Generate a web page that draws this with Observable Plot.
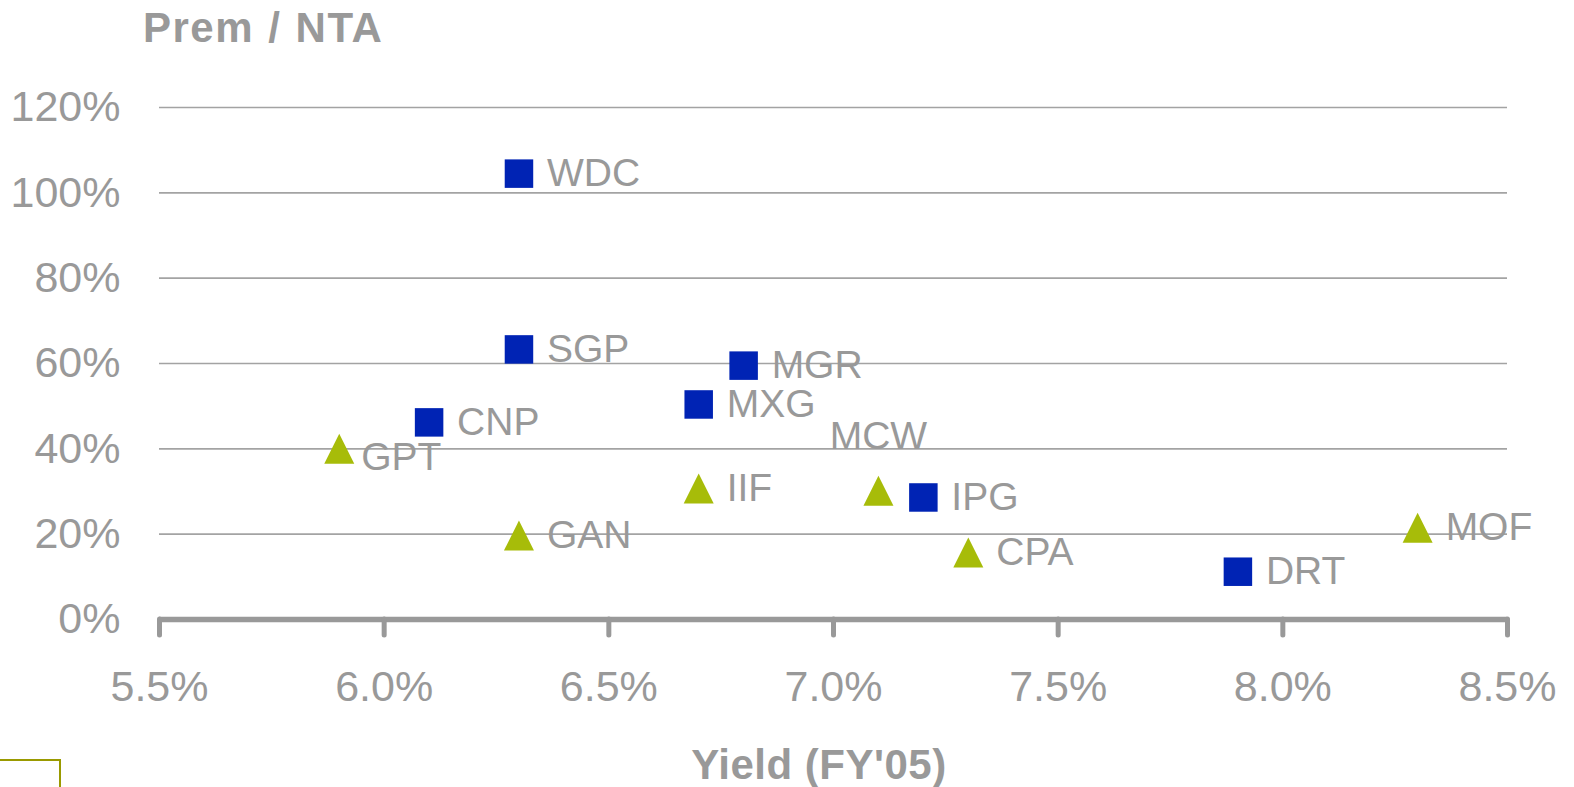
<!DOCTYPE html>
<html>
<head>
<meta charset="utf-8">
<script src="https://cdn.jsdelivr.net/npm/d3@7"></script>
<script src="https://cdn.jsdelivr.net/npm/@observablehq/plot@0.6"></script>
<style>
  body { margin: 0; background: #fff; font-family: Arial, "Liberation Sans", sans-serif; }
  #wrap { position: relative; width: 1574px; height: 787px; overflow: hidden; }
  #title { height: 60px; box-sizing: border-box; padding-left: 143px; padding-top: 7px;
           font-size: 42px; line-height: 42px; font-weight: bold; color: #999; letter-spacing: 1.5px; word-spacing: 1px; }
  #xlabel { box-sizing: border-box; padding-left: 64px; padding-top: 24px; text-align: center;
            font-size: 42px; line-height: 42px; font-weight: bold; color: #999; letter-spacing: 0.5px; }
  #box { position: absolute; left: -4px; top: 759px; width: 61px; height: 60px; border: 2px solid #9a9a00; }
  svg { display: block; }
</style>
</head>
<body>
<div id="wrap">
  <div id="title">Prem / NTA</div>
  <div id="chart"></div>
  <div id="xlabel">Yield (FY'05)</div>
  <div id="box"></div>
</div>
<script>
// Series 1 (blue squares)
const squareNames = ["WDC", "SGP", "CNP", "MGR", "MXG", "IPG", "DRT"];
const squareYield = [6.3, 6.3, 6.1, 6.8, 6.7, 7.2, 7.9];
const squarePrem  = [104.5, 63.3, 46.2, 59.5, 50.4, 28.6, 11.2];
// Series 2 (green triangles)
const triNames = ["GPT", "GAN", "IIF", "MCW", "CPA", "MOF"];
const triYield = [5.9, 6.3, 6.7, 7.1, 7.3, 8.3];
const triPrem  = [40.0, 19.7, 30.7, 30.2, 15.7, 21.5];
// Axis ticks
const xTicks = [5.5, 6.0, 6.5, 7.0, 7.5, 8.0, 8.5];
const yTicks = [0, 20, 40, 60, 80, 100, 120];
// label placement categories
const labelAbove = ["MCW"];
const labelLowRight = ["GPT"];

const squares = squareNames.map((n, i) => ({name: n, x: squareYield[i], y: squarePrem[i]}));
const tris = triNames.map((n, i) => ({name: n, x: triYield[i], y: triPrem[i]}));
const all = [...squares, ...tris];

const squareSym = {draw(ctx, size) { const r = Math.sqrt(size / Math.PI); ctx.rect(-r, -r, 2 * r, 2 * r); }};
const triSym = {draw(ctx, size) { const r = Math.sqrt(size / Math.PI); ctx.moveTo(0, -r); ctx.lineTo(r, r); ctx.lineTo(-r, r); ctx.closePath(); }};

const gray = "#999999";
const blue = "#0023B4";
const green = "#A7BC09";

const chart = Plot.plot({
  width: 1574,
  height: 660,
  marginLeft: 159,
  marginRight: 67,
  marginTop: 47,
  marginBottom: 101,
  style: {fontFamily: 'Arial, "Liberation Sans", sans-serif', color: gray, background: "white"},
  x: {domain: [5.5, 8.5]},
  y: {domain: [0, 120]},
  marks: [
    Plot.ruleY(yTicks.filter(d => d > 0), {stroke: "#a3a3a3", strokeWidth: 1.6}),
    Plot.ruleY([0], {stroke: gray, strokeWidth: 5.5}),
    Plot.axisX({ticks: xTicks, tickSize: 16, tickPadding: 35, strokeWidth: 5, strokeLinecap: "round",
      stroke: gray, fill: gray, fontSize: 43, tickFormat: d => d.toFixed(1) + "%", label: null}),
    Plot.axisY({ticks: yTicks, tickSize: 0, tickPadding: 39, fill: gray, fontSize: 43,
      tickFormat: d => d + "%", label: null}),
    Plot.dot(squares, {x: "x", y: "y", symbol: squareSym, r: 14.25, fill: blue, stroke: "none"}),
    Plot.dot(tris, {x: "x", y: "y", symbol: triSym, r: 15, fill: green, stroke: "none"}),
    Plot.text(all.filter(d => !labelAbove.includes(d.name) && !labelLowRight.includes(d.name)),
      {x: "x", y: "y", text: "name", textAnchor: "start", dx: 28, fontSize: 39, fill: gray}),
    Plot.text(all.filter(d => labelLowRight.includes(d.name)),
      {x: "x", y: "y", text: "name", textAnchor: "start", dx: 22, dy: 9, fontSize: 39, fill: gray}),
    Plot.text(all.filter(d => labelAbove.includes(d.name)),
      {x: "x", y: "y", text: "name", textAnchor: "middle", dy: -54, fontSize: 39, fill: gray})
  ]
});
document.getElementById("chart").appendChild(chart);
</script>
</body>
</html>
